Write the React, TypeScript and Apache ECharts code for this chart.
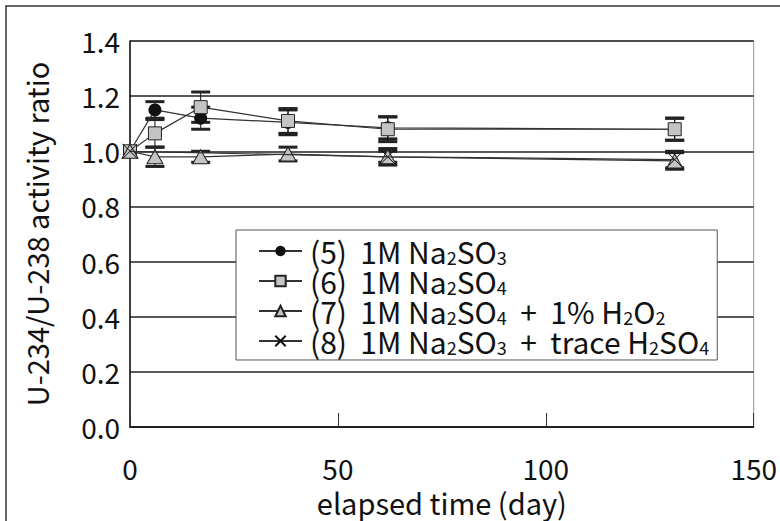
import React, { useEffect, useRef } from "react";
import * as echarts from "echarts";

const days = [0, 6, 17, 38, 62, 131];
const s5Values = [1.0, 1.15, 1.12, 1.105, 1.085, 1.08];
const s5Err = [0, 0.03, 0.04, 0.045, 0.04, 0.04];
const s6Values = [1.0, 1.065, 1.16, 1.11, 1.08, 1.08];
const s6Err = [0, 0.05, 0.055, 0.045, 0.045, 0.04];
const s7Values = [1.0, 0.98, 0.98, 0.99, 0.98, 0.965];
const s7Err = [0, 0.035, 0.02, 0.025, 0.03, 0.03];
const s8Days = [0, 62, 131];
const s8Values = [1.0, 0.98, 0.97];
const s8Err = [0, 0.02, 0.03];

const seriesNames = ["(5) 1M Na2SO3", "(6) 1M Na2SO4", "(7) 1M Na2SO4 + 1% H2O2", "(8) 1M Na2SO3 + trace H2SO4"];
const legendRich = [
  "{p|(5)  1M Na}{s|2}{n|SO}{s|3}",
  "{p|(6)  1M Na}{s|2}{n|SO}{s|4}",
  "{p|(7)  1M Na}{s|2}{n|SO}{s|4}{n|  +  1% H}{s|2}{n|O}{s|2}",
  "{p|(8)  1M Na}{s|2}{n|SO}{s|3}{n|  +  trace H}{s|2}{n|SO}{s|4}",
];
const yTicks = { min: 0, max: 1.4, interval: 0.2 };
const xTicks = { min: 0, max: 150, interval: 50 };

const FONT = '"Noto Sans CJK JP", "Noto Sans", sans-serif';

function pts(xs: number[], ys: number[]) {
  return xs.map((x, i) => [x, ys[i]]);
}
function errPts(xs: number[], ys: number[], es: number[]) {
  return xs
    .map((x, i) => [x, ys[i], ys[i] - es[i], ys[i] + es[i], es[i]])
    .filter((d) => d[4] > 0);
}

const renderErr = (_params: any, api: any) => {
  const x = api.value(0);
  const lo = api.value(2);
  const hi = api.value(3);
  const pHi = api.coord([x, hi]);
  const pLo = api.coord([x, lo]);
  const cw = 19;
  const ch = 3;
  return {
    type: "group",
    children: [
      { type: "line", shape: { x1: pHi[0], y1: pHi[1], x2: pLo[0], y2: pLo[1] }, style: { stroke: "#111", lineWidth: 1 } },
      { type: "rect", shape: { x: pHi[0] - cw / 2, y: pHi[1] - ch / 2, width: cw, height: ch }, style: { fill: "#222" } },
      { type: "rect", shape: { x: pLo[0] - cw / 2, y: pLo[1] - ch / 2, width: cw, height: ch }, style: { fill: "#222" } },
    ],
  };
};

export default function App() {
  const ref = useRef<HTMLDivElement>(null);
  useEffect(() => {
    const chart = echarts.init(ref.current!, null, { renderer: "svg" });
    const lineStyle = { color: "#333", width: 1.2 };
    const errSeries = (data: any[]) => ({
      type: "custom",
      renderItem: renderErr,
      data,
      encode: { x: 0, y: 1 },
      z: 1,
      silent: true,
    });
    chart.setOption({
      animation: false,
      textStyle: { fontFamily: FONT },
      graphic: [
        {
          type: "rect",
          shape: { x: 6, y: 6, width: 900, height: 700 },
          style: { fill: "none", stroke: "#333", lineWidth: 1.5 },
          z: 0,
        },
      ],
      grid: {
        left: 130,
        right: 18,
        top: 41,
        bottom: 94,
        show: true,
        borderColor: "#999",
        borderWidth: 1,
      },
      xAxis: {
        type: "value",
        min: xTicks.min,
        max: xTicks.max,
        interval: xTicks.interval,
        name: "elapsed time (day)",
        nameLocation: "middle",
        nameGap: 60,
        nameTextStyle: { fontFamily: FONT, fontSize: 29, color: "#111" },
        axisLine: { show: true, lineStyle: { color: "#111", width: 1.5 } },
        axisTick: { show: true, inside: true, length: 14, lineStyle: { color: "#333", width: 1 } },
        axisLabel: { margin: 27, fontFamily: FONT, fontSize: 28, color: "#111" },
        splitLine: { show: false },
      },
      yAxis: {
        type: "value",
        min: yTicks.min,
        max: yTicks.max,
        interval: yTicks.interval,
        name: "U-234/U-238 activity ratio",
        nameLocation: "middle",
        nameGap: 80,
        nameTextStyle: { fontFamily: FONT, fontSize: 29, color: "#111" },
        axisLine: { show: true, lineStyle: { color: "#111", width: 1.5 } },
        axisTick: { show: false },
        axisLabel: {
          margin: 10,
          fontFamily: FONT,
          fontSize: 28,
          color: "#111",
          formatter: (v: number) => v.toFixed(1),
        },
        splitLine: { show: true, lineStyle: { color: "#222", width: 1.5 } },
      },
      legend: {
        show: true,
        orient: "vertical",
        left: 236,
        top: 230,
        padding: [6, 8, 4, 22],
        itemGap: 0,
        itemWidth: 43,
        itemHeight: 13,
        borderColor: "#555",
        borderWidth: 1,
        backgroundColor: "#fff",
        data: seriesNames,
        formatter: (name: string) => legendRich[seriesNames.indexOf(name)],
        textStyle: {
          fontFamily: FONT,
          color: "#111",
          rich: {
            p: { fontFamily: FONT, fontSize: 30, lineHeight: 30, color: "#111", padding: [0, 0, 0, 3] },
            n: { fontFamily: FONT, fontSize: 30, lineHeight: 30, color: "#111" },
            s: { fontFamily: FONT, fontSize: 18, lineHeight: 22, color: "#111", verticalAlign: "bottom" },
          },
        },
      },
      series: [
        errSeries(errPts(days, s5Values, s5Err)),
        errSeries(errPts(days, s6Values, s6Err)),
        errSeries(errPts(days, s7Values, s7Err)),
        errSeries(errPts(s8Days, s8Values, s8Err)),
        {
          name: seriesNames[0],
          type: "line",
          data: pts(days, s5Values),
          symbol: "circle",
          symbolSize: 13,
          itemStyle: { color: "#111", borderColor: "#111", borderWidth: 0 },
          lineStyle,
          z: 5,
        },
        {
          name: seriesNames[1],
          type: "line",
          data: pts(days, s6Values),
          symbol: "rect",
          symbolSize: 13,
          itemStyle: { color: "#c4c4c4", borderColor: "#222", borderWidth: 1 },
          lineStyle,
          z: 6,
        },
        {
          name: seriesNames[2],
          type: "line",
          data: pts(days, s7Values),
          symbol: "triangle",
          symbolSize: [16, 14],
          itemStyle: { color: "#c4c4c4", borderColor: "#222", borderWidth: 1 },
          lineStyle,
          z: 7,
        },
        {
          name: seriesNames[3],
          type: "line",
          data: pts(s8Days, s8Values),
          symbol: "path://M0,0L10,10M10,0L0,10",
          symbolSize: 15,
          itemStyle: { color: "#111", borderColor: "#111", borderWidth: 1 },
          lineStyle,
          z: 8,
        },
      ],
    });
    return () => chart.dispose();
  }, []);
  return (
    <div
      ref={ref}
      style={{ position: "fixed", left: 0, top: 0, width: 780, height: 521, background: "#fff" }}
    />
  );
}
